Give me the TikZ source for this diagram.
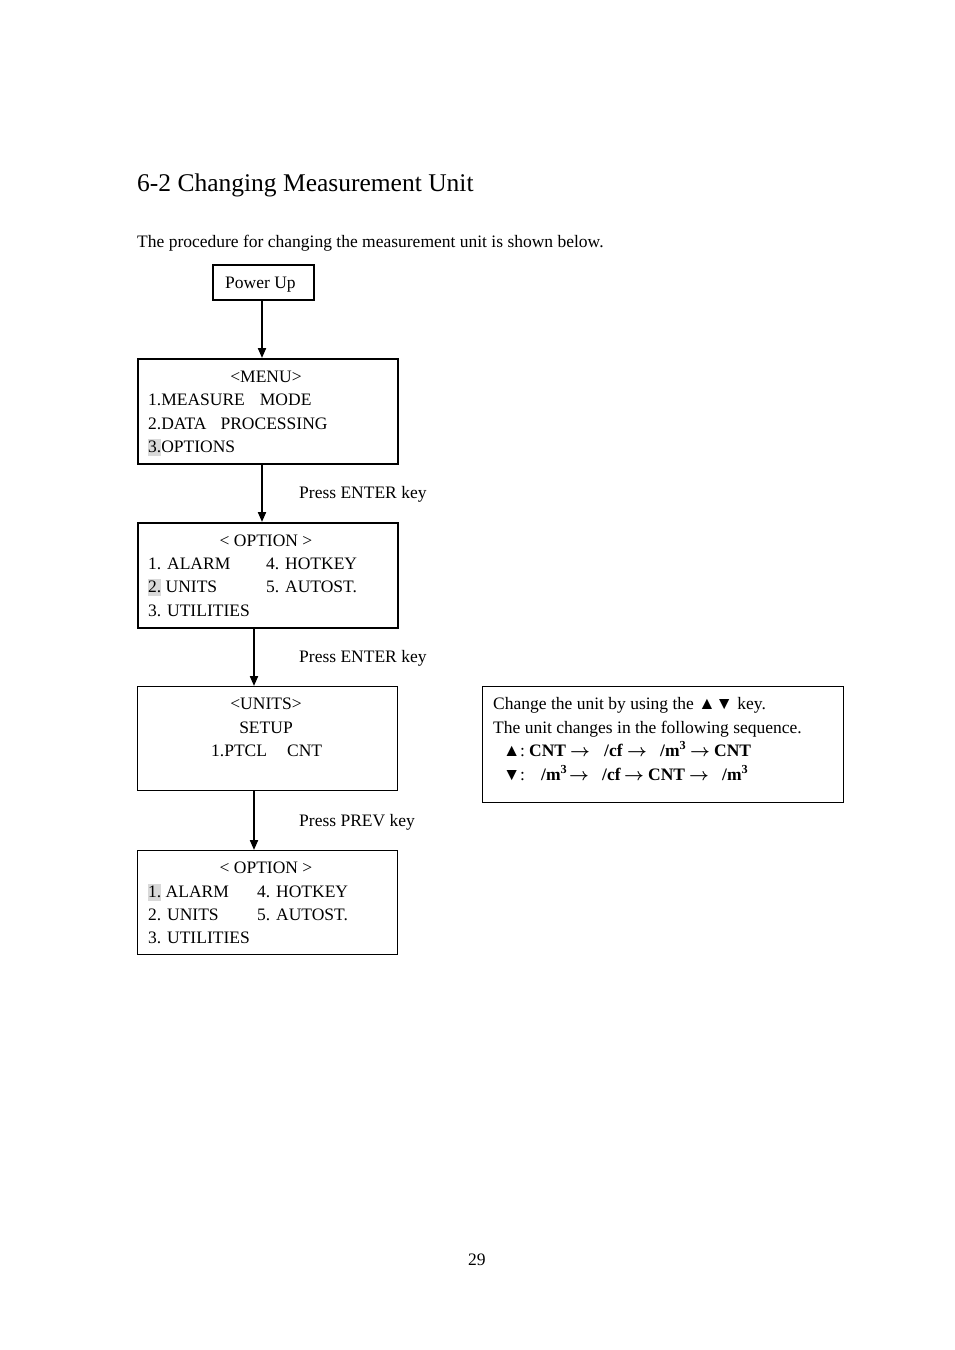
\documentclass[tikz,border=0pt]{standalone}
\usepackage{fontspec}
\setmainfont{Liberation Serif}
\usetikzlibrary{arrows.meta}
\definecolor{hl}{gray}{0.85}
\newcommand{\hlbox}[1]{{\setlength{\fboxsep}{0pt}\colorbox{hl}{\rule[-3.5pt]{0pt}{16.5pt}#1}}}
\newcommand{\putat}[2]{\rlap{\hspace*{#1pt}#2}}
\newcommand{\ra}{{\boldmath$\rightarrow$}}
\newcommand{\mcube}{\textbf{/m\textsuperscript{3}}}
\tikzset{
  txt/.style={inner sep=0pt, anchor=base west, font=\fontsize{17.5}{21}\selectfont},
  ctxt/.style={inner sep=0pt, anchor=base, font=\fontsize{17.5}{21}\selectfont},
  scrbox/.style={draw, line width=1.5pt, inner sep=0pt, anchor=north west, minimum width=260pt, minimum height=105pt},
  thinbox/.style={scrbox, line width=1pt},
  flow/.style={line width=2pt, -{Triangle[length=10pt,width=8pt]}},
}
\begin{document}
\begin{tikzpicture}[x=1pt,y=-1pt]
\useasboundingbox (0,0) rectangle (954,1350);
% heading and intro
\node[txt, font=\fontsize{25.5}{30}\selectfont] (title) at (137,191) {6-2 Changing Measurement Unit};
\node[txt] (intro) at (137,247) {The procedure for changing the measurement unit is shown below.};
% boxes
\node[draw, line width=1.5pt, anchor=north west, minimum width=101pt, minimum height=35pt, inner sep=0pt] (power) at (212,264) {};
\node[txt] (powert) at (225,288) {Power Up};
\node[scrbox] (menu) at (137,358) {};
\node[scrbox] (opt1) at (137,522) {};
\node[thinbox, minimum height=104pt] (units) at (137,686) {};
\node[thinbox, minimum height=104pt] (opt2) at (137,850) {};
\node[thinbox, minimum width=361pt, minimum height=116pt] (info) at (482,686) {};
% menu text
\node[ctxt] (m0) at (266,382) {<MENU>};
\node[txt] (m1) at (148,405) {1.MEASURE\hspace{15pt}MODE};
\node[txt] (m2) at (148,429) {2.DATA\hspace{14pt}PROCESSING};
\node[txt] (m3) at (148,452) {\hlbox{3.}OPTIONS};
% option 1
\node[ctxt] (a0) at (266,546) {< OPTION >};
\node[txt] (a1) at (148,569) {1. ALARM};
\node[txt] (a4) at (266,569) {4. HOTKEY};
\node[txt] (a2) at (148,592) {\hlbox{2.} UNITS};
\node[txt] (a5) at (266,592) {5. AUTOST.};
\node[txt] (a3) at (148,616) {3. UTILITIES};
% units
\node[ctxt] (u0) at (266,709) {<UNITS>};
\node[ctxt] (u1) at (266,733) {SETUP};
\node[txt] (u2) at (211,756) {1.PTCL\hspace{20pt}CNT};
% option 2
\node[ctxt] (b0) at (266,873) {< OPTION >};
\node[txt] (b1) at (148,897) {\hlbox{1.} ALARM};
\node[txt] (b4) at (257,897) {4. HOTKEY};
\node[txt] (b2) at (148,920) {2. UNITS};
\node[txt] (b5) at (257,920) {5. AUTOST.};
\node[txt] (b3) at (148,943) {3. UTILITIES};
% info text
\node[txt] (i1) at (493,709) {Change the unit by using the ▲▼ key.};
\node[txt] (i2) at (493,733) {The unit changes in the following sequence.};
\node[txt] (i3) at (503,756) {\putat{0}{▲}\putat{17}{:}\putat{26}{\textbf{CNT}}\putat{67}{\ra}\putat{101}{\textbf{/cf}}\putat{124}{\ra}\putat{157}{\mcube}\putat{187}{\ra}\putat{211}{\textbf{CNT}}\hspace*{247pt}};
\node[txt] (i4) at (503,780) {\putat{0}{▼}\putat{17}{:}\putat{38}{\mcube}\putat{66}{\ra}\putat{99}{\textbf{/cf}}\putat{121}{\ra}\putat{145}{\textbf{CNT}}\putat{186}{\ra}\putat{219}{\mcube}\hspace*{245pt}};
% labels
\node[txt] (l1) at (299,498) {Press ENTER key};
\node[txt] (l2) at (299,662) {Press ENTER key};
\node[txt] (l3) at (299,826) {Press PREV key};
\node[txt] (page) at (468,1265) {29};
% connectors
\draw[flow] (power.south -| 262,0) -- (menu.north -| 262,0);
\draw[flow] (menu.south -| 262,0) -- (opt1.north -| 262,0);
\draw[flow] (opt1.south -| 254,0) -- (units.north -| 254,0);
\draw[flow] (units.south -| 254,0) -- (opt2.north -| 254,0);
\end{tikzpicture}
\end{document}
